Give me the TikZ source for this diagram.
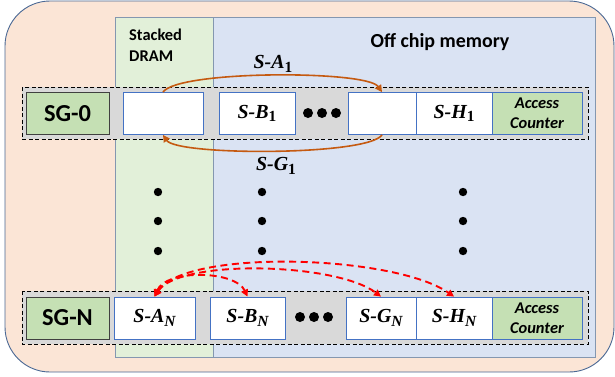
\documentclass[tikz,border=0pt]{standalone}
\usepackage{fontspec}
\setmainfont{Carlito}
\newfontfamily\lblfont{Liberation Serif}
\usetikzlibrary{arrows.meta,calc}

\definecolor{peach}{HTML}{FBE5D6}
\definecolor{dramgreen}{HTML}{E2F0D9}
\definecolor{offblue}{HTML}{DAE3F3}
\definecolor{rowgray}{HTML}{D9D9D9}
\definecolor{sggreen}{HTML}{C5E0B4}
\definecolor{boxblue}{HTML}{4472C4}
\definecolor{edgeblue}{HTML}{4A6894}
\definecolor{coledge}{HTML}{8497B0}
\definecolor{swaporange}{HTML}{C55A11}

% segment label: bold italic serif name with a lowered subscript
\newcommand\seglbl[2]{{\lblfont\bfseries\itshape\fontsize{20}{20}\selectfont #1}%
  \raisebox{-3.5bp}{\lblfont\bfseries\fontsize{15.5}{15.5}\selectfont #2}}

\begin{document}
\begin{tikzpicture}[x=1bp,y=-1bp,
  rowframe/.style={draw=black,dashed,dash pattern=on 4bp off 2.5bp,line width=0.9bp,fill=rowgray},
  sgbox/.style={draw=black!75,line width=0.8bp,fill=sggreen,minimum height=42bp,inner sep=0pt,
     font=\fontsize{24.5}{24.5}\selectfont\bfseries},
  segbox/.style={draw=boxblue,line width=0.8bp,fill=white,minimum height=42bp,inner sep=0pt},
  counterbox/.style={draw=boxblue,line width=0.8bp,fill=sggreen,minimum width=90bp,minimum height=42bp,
     inner sep=0pt,align=center,font=\fontsize{16.5}{20}\selectfont\bfseries\itshape},
  swaparrow/.style={draw=swaporange,line width=1.6bp,-{Triangle[length=7bp,width=7bp]}},
  migrate/.style={draw=red,line width=1.9bp,dash pattern=on 7bp off 4.5bp,
     {Triangle[length=7bp,width=7bp]}-{Triangle[length=7bp,width=7bp]}},
  vdot/.style={fill=black,draw=none},
  lbl/.style={inner sep=0pt}
]
\useasboundingbox (0,0) rectangle (615,376);

% outer panel
\draw[fill=peach,draw=edgeblue,line width=0.9bp,rounded corners=45bp] (5,1) rectangle (614,372);

% memory columns
\draw[fill=dramgreen,draw=coledge,line width=0.7bp] (115,17) rectangle (213,357);
\draw[fill=offblue,draw=coledge,line width=0.7bp] (213,17) rectangle (595,357);

\node[lbl,anchor=north west,align=left,font=\fontsize{16.5}{21}\selectfont\bfseries] (dramtitle) at (129,29) {Stacked\\DRAM};
\node[lbl,font=\fontsize{20}{20}\selectfont\bfseries] (offtitle) at (440,42) {Off chip memory};

% segment group 0
\draw[rowframe] (22,87) rectangle (588,139);
\node[sgbox,minimum width=83bp] (sg0) at (67.5,113.5) {SG-0};
\node[segbox,minimum width=80bp] (a1) at (163,113.5) {};
\node[segbox,minimum width=76bp] (b1) at (257,113.5) {\seglbl{S-B}{1}};
\node[segbox,minimum width=68bp] (g1) at (382,113.5) {};
\node[segbox,minimum width=76bp] (h1) at (454,113.5) {\seglbl{S-H}{1}};
\node[counterbox] (ac1) at (537,113.5) {Access\\Counter};
\foreach \x in {308,322,336} \fill[vdot] (\x,113) circle (5bp);

% swap between stacked DRAM and off chip memory
\draw[swaparrow] (a1.north) .. controls +(15,-22) and +(-15,-22) .. (g1.north);
\draw[swaparrow] (g1.south) .. controls +(-14,21) and +(14,21) .. (a1.south);
\node[lbl] (sa1) at (273,64) {\seglbl{S-A}{1}};
\node[lbl] (sg1) at (276,166) {\seglbl{S-G}{1}};

% vertical ellipsis
\foreach \x in {158,262,463}
  \foreach \y in {192,221,251}
    \fill[vdot] (\x,\y) circle (4.2bp);

% segment group N
\draw[rowframe] (22,291) rectangle (588,344);
\node[sgbox,minimum width=83bp] (sgN) at (67.5,318) {SG-N};
\node[segbox,minimum width=81bp] (aN) at (154.5,318) {\seglbl{S-A}{\itshape N}};
\node[segbox,minimum width=75bp] (bN) at (247.5,318) {\seglbl{S-B}{\itshape N}};
\node[segbox,minimum width=70bp] (gN) at (381,318) {\seglbl{S-G}{\itshape N}};
\node[segbox,minimum width=76bp] (hN) at (454,318) {\seglbl{S-H}{\itshape N}};
\node[counterbox] (acN) at (537,318) {Access\\Counter};
\foreach \x in {300,314,328} \fill[vdot] (\x,317) circle (5bp);

% candidate migrations
\draw[migrate] (aN.north) .. controls +(12,-28) and +(-12,-26) .. (bN.north);
\draw[migrate] (aN.north) .. controls +(25,-38) and +(-45,-34) .. (gN.north);
\draw[migrate] (aN.north) .. controls +(30,-48) and +(-60,-42) .. (hN.north);
\end{tikzpicture}
\end{document}
